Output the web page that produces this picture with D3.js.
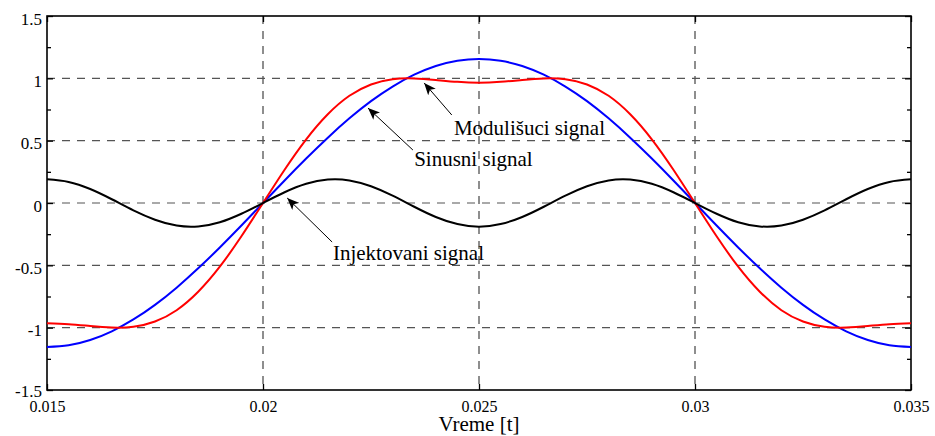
<!DOCTYPE html>
<html>
<head>
<meta charset="utf-8">
<script src="https://cdn.jsdelivr.net/npm/d3@7"></script>
<style>
    body { margin: 0; background: #fff; }
</style>
</head>
<body>
<div id="chart"></div>
<script>
// sample times [s]
const vreme = [0.015, 0.0155, 0.016, 0.0165, 0.017, 0.0175, 0.018, 0.0185, 0.019, 0.0195,
    0.02, 0.0205, 0.021, 0.0215, 0.022, 0.0225, 0.023, 0.0235, 0.024, 0.0245,
    0.025, 0.0255, 0.026, 0.0265, 0.027, 0.0275, 0.028, 0.0285, 0.029, 0.0295,
    0.03, 0.0305, 0.031, 0.0315, 0.032, 0.0325, 0.033, 0.0335, 0.034, 0.0345, 0.035];

// values
const sinusni = [-1.155, -1.141, -1.099, -1.029, -0.934, -0.817, -0.679, -0.524, -0.357, -0.181,
    0, 0.181, 0.357, 0.524, 0.679, 0.817, 0.934, 1.029, 1.099, 1.141,
    1.155, 1.141, 1.099, 1.029, 0.934, 0.817, 0.679, 0.524, 0.357, 0.181,
    0, -0.181, -0.357, -0.524, -0.679, -0.817, -0.934, -1.029, -1.099, -1.141, -1.155];

const injektovani = [0.19, 0.169, 0.112, 0.030, -0.059, -0.134, -0.181, -0.188, -0.154, -0.086,
    0, 0.086, 0.154, 0.188, 0.181, 0.134, 0.059, -0.030, -0.112, -0.169,
    -0.19, -0.169, -0.112, -0.030, 0.059, 0.134, 0.181, 0.188, 0.154, 0.086,
    0, -0.086, -0.154, -0.188, -0.181, -0.134, -0.059, 0.030, 0.112, 0.169, 0.19];

const modulisuci = [-0.965, -0.972, -0.987, -0.999, -0.993, -0.951, -0.860, -0.712, -0.511, -0.267,
    0, 0.267, 0.511, 0.712, 0.860, 0.951, 0.993, 0.999, 0.987, 0.972,
    0.965, 0.972, 0.987, 0.999, 0.993, 0.951, 0.860, 0.712, 0.511, 0.267,
    0, -0.267, -0.511, -0.712, -0.860, -0.951, -0.993, -0.999, -0.987, -0.972, -0.965];

const xTicks = [0.015, 0.02, 0.025, 0.03, 0.035];
const xTickLabels = ["0.015", "0.02", "0.025", "0.03", "0.035"];
const yTicks = [-1.5, -1, -0.5, 0, 0.5, 1, 1.5];
const yTickLabels = ["-1.5", "-1", "-0.5", "0", "0.5", "1", "1.5"];
const yMinorTicks = [-1.25, -0.75, -0.25, 0.25, 0.75, 1.25];

// annotation: text anchor + arrow tail -> head, in data units
const labels = ["Modulišuci signal", "Sinusni signal", "Injektovani signal"];
const labelPos = [[0.02442, 0.545], [0.02350, 0.297], [0.02162, -0.457]];
const arrowTail = [[0.02437, 0.706], [0.02347, 0.425], [0.02160, -0.313]];
const arrowHead = [[0.02373, 0.963], [0.02243, 0.762], [0.02056, 0.040]];

const serif = "Liberation Serif, DejaVu Serif, serif";

class SignalVis {

    constructor(_parentElement) {
        this.parentElement = _parentElement;
        this.initVis();
    }

    initVis() {
        let vis = this;

        vis.margin = {top: 16, right: 24, bottom: 46, left: 47};
        vis.width = 935 - vis.margin.left - vis.margin.right;
        vis.height = 436 - vis.margin.top - vis.margin.bottom;

        vis.svg = d3.select("#" + vis.parentElement).append("svg")
            .attr("width", 935)
            .attr("height", 436)
            .append("g")
            .attr("transform", "translate(" + vis.margin.left + "," + vis.margin.top + ")");

        vis.x = d3.scaleLinear().domain([0.015, 0.035]).range([0, vis.width]);
        vis.y = d3.scaleLinear().domain([-1.5, 1.5]).range([vis.height, 0]);

        // arrow head
        vis.svg.append("defs").append("marker")
            .attr("id", "head")
            .attr("viewBox", "0 0 12 10")
            .attr("refX", 12).attr("refY", 5)
            .attr("markerWidth", 12).attr("markerHeight", 10)
            .attr("markerUnits", "userSpaceOnUse")
            .attr("orient", "auto")
            .append("path")
            .attr("d", "M0,0 L12,5 L0,10 L3,5 Z")
            .attr("fill", "#000");

        vis.updateVis();
    }

    updateVis() {
        let vis = this;

        // grid
        vis.svg.selectAll(".gridx").data(xTicks.slice(1, -1)).enter().append("line")
            .attr("class", "gridx")
            .attr("x1", d => vis.x(d)).attr("x2", d => vis.x(d))
            .attr("y1", 0).attr("y2", vis.height)
            .attr("stroke", "#444").attr("stroke-width", 1.2)
            .attr("stroke-dasharray", "8,7");

        vis.svg.selectAll(".gridy").data(yTicks.slice(1, -1)).enter().append("line")
            .attr("class", "gridy")
            .attr("x1", 0).attr("x2", vis.width)
            .attr("y1", d => vis.y(d)).attr("y2", d => vis.y(d))
            .attr("stroke", "#555").attr("stroke-width", 1.2)
            .attr("stroke-dasharray", "8,7");

        // axes with inward ticks
        let axB = vis.svg.append("g").attr("transform", "translate(0," + vis.height + ")")
            .call(d3.axisBottom(vis.x).tickValues(xTicks).tickSizeInner(-6).tickSizeOuter(0)
                .tickFormat((d, i) => xTickLabels[i]));
        vis.svg.append("g")
            .call(d3.axisTop(vis.x).tickValues(xTicks).tickSizeInner(-6).tickSizeOuter(0)
                .tickFormat(""));
        let axL = vis.svg.append("g")
            .call(d3.axisLeft(vis.y).tickValues(yTicks).tickSizeInner(-6).tickSizeOuter(0)
                .tickFormat((d, i) => yTickLabels[i]));
        vis.svg.append("g").attr("transform", "translate(" + vis.width + ",0)")
            .call(d3.axisRight(vis.y).tickValues(yTicks).tickSizeInner(-6).tickSizeOuter(0)
                .tickFormat(""));
        vis.svg.append("g")
            .call(d3.axisLeft(vis.y).tickValues(yMinorTicks).tickSizeInner(-4).tickSizeOuter(0).tickFormat(""));
        vis.svg.append("g").attr("transform", "translate(" + vis.width + ",0)")
            .call(d3.axisRight(vis.y).tickValues(yMinorTicks).tickSizeInner(-4).tickSizeOuter(0).tickFormat(""));

        vis.svg.selectAll(".domain").remove();
        vis.svg.selectAll(".tick line").attr("stroke", "#000").attr("stroke-width", 1.3);
        // axis groups carry their own font attributes
        vis.svg.selectAll("g").attr("font-family", serif).attr("font-size", 17);

        axB.selectAll("text")
            .attr("y", 0).attr("dy", null)
            .attr("transform", "translate(0,22)")
            .attr("font-size", 16)
            .attr("fill", "#000");
        axL.selectAll("text")
            .attr("x", -5).attr("dy", null)
            .attr("transform", (d, i) => "translate(0," + (i === 0 ? 6 : 8) + ")")
            .attr("fill", "#000");

        // box
        vis.svg.append("rect")
            .attr("width", vis.width).attr("height", vis.height)
            .attr("fill", "none").attr("stroke", "#000").attr("stroke-width", 1.6);

        // curves
        let series = [
            {vals: sinusni, color: "#0000ff"},
            {vals: modulisuci, color: "#ff0000"},
            {vals: injektovani, color: "#000000"}
        ];
        let line = d3.line()
            .x((d, i) => vis.x(vreme[i]))
            .y(d => vis.y(d))
            .curve(d3.curveNatural);

        vis.svg.selectAll(".signal").data(series).enter().append("path")
            .attr("class", "signal")
            .attr("d", d => line(d.vals))
            .attr("fill", "none")
            .attr("stroke", d => d.color)
            .attr("stroke-width", 2);

        // annotations
        vis.svg.selectAll(".arrow").data(labels).enter().append("line")
            .attr("class", "arrow")
            .attr("x1", (d, i) => vis.x(arrowTail[i][0])).attr("y1", (d, i) => vis.y(arrowTail[i][1]))
            .attr("x2", (d, i) => vis.x(arrowHead[i][0])).attr("y2", (d, i) => vis.y(arrowHead[i][1]))
            .attr("stroke", "#000").attr("stroke-width", 1)
            .attr("marker-end", "url(#head)");

        vis.svg.selectAll(".lbl").data(labels).enter().append("text")
            .attr("class", "lbl")
            .attr("x", (d, i) => vis.x(labelPos[i][0]))
            .attr("y", (d, i) => vis.y(labelPos[i][1]))
            .attr("font-family", serif)
            .attr("font-size", 21)
            .text(d => d);

        // x-axis label
        vis.svg.append("text")
            .attr("x", vis.width / 2)
            .attr("y", vis.height + 41)
            .attr("text-anchor", "middle")
            .attr("font-family", serif)
            .attr("font-size", 21)
            .text("Vreme [t]");
    }
}

new SignalVis("chart");
</script>
</body>
</html>
